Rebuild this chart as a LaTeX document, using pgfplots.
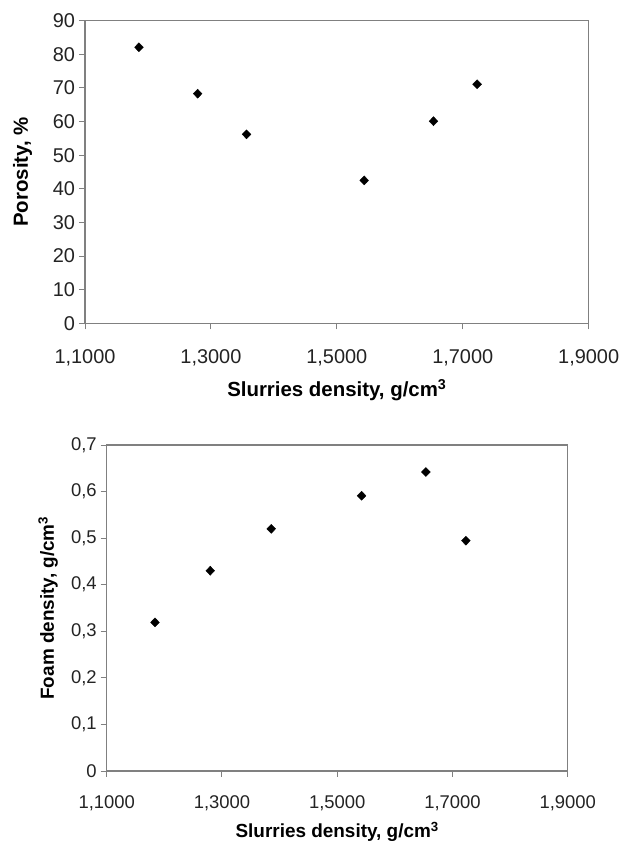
\documentclass[border=0pt]{standalone}
\usepackage{fontspec}
\setmainfont{Liberation Sans}
\usepackage{pgfplots}
\pgfplotsset{compat=1.18}
\definecolor{axgray}{RGB}{128,128,128}
\definecolor{txt}{RGB}{35,35,35}
\begin{document}
\begin{tikzpicture}
\path[use as bounding box] (0,0) rectangle (624bp,846bp);
\pgfplotsset{
  every axis/.append style={
    scale only axis,
    axis line style={axgray, line width=1.3bp},
    every tick/.style={axgray, line width=1bp},
    tick align=outside,
    major tick length=6bp,
    xtick pos=bottom, ytick pos=left,
    xmin=1.1, xmax=1.9,
    xtick={1.1,1.3,1.5,1.7,1.9},
    xticklabels={{1,1000},{1,3000},{1,5000},{1,7000},{1,9000}},
    tick label style={text=txt},
  },
}
% top
\begin{axis}[
  at={(85bp,522.7bp)}, anchor=south west,
  width=503.7bp, height=302.6bp,
  ymin=0, ymax=90,
  ytick={0,10,20,30,40,50,60,70,80,90},
  yticklabels={0,10,20,30,40,50,60,70,80,90},
  xticklabel style={font=\fontsize{20}{23}\selectfont, anchor=center, yshift=-29bp},
  yticklabel style={font=\fontsize{20}{23}\selectfont, anchor=east, xshift=-0.5bp},
  xlabel={\textbf{Slurries density, g/cm\textsuperscript{3}}},
  ylabel={\textbf{Porosity, \%}},
  xlabel style={font=\fontsize{20.5}{23}\selectfont, at={(axis description cs:0.5,-0.2204)}, anchor=center},
  ylabel style={font=\fontsize{20.5}{23}\selectfont, at={(axis description cs:-0.124,0.5)}, anchor=center},
]
\addplot[only marks, mark=diamond*, mark size=4.5bp, mark options={xscale=1.3}, black] coordinates {
(1.1857,82.1) (1.2789,68.3) (1.3566,56.2) (1.5434,42.5) (1.6535,60.1) (1.7228,71.1)
};
\end{axis}
% bottom
\begin{axis}[
  at={(106.7bp,75bp)}, anchor=south west,
  width=461bp, height=326bp,
  ymin=0, ymax=0.7,
  ytick={0,0.1,0.2,0.3,0.4,0.5,0.6,0.7},
  yticklabels={0,{0,1},{0,2},{0,3},{0,4},{0,5},{0,6},{0,7}},
  xticklabel style={font=\fontsize{18.5}{21}\selectfont, anchor=center, yshift=-26bp},
  yticklabel style={font=\fontsize{18.5}{21}\selectfont, anchor=east, xshift=-0.5bp},
  xlabel={\textbf{Slurries density, g/cm\textsuperscript{3}}},
  ylabel={\textbf{Foam density, g/cm\textsuperscript{3}}},
  xlabel style={font=\fontsize{19}{22}\selectfont, at={(axis description cs:0.5,-0.187)}, anchor=center},
  ylabel style={font=\fontsize{19}{22}\selectfont, at={(axis description cs:-0.1273,0.5)}, anchor=center},
]
\addplot[only marks, mark=diamond*, mark size=4.5bp, mark options={xscale=1.3}, black] coordinates {
(1.1838,0.319) (1.2797,0.430) (1.3855,0.520) (1.5423,0.591) (1.6539,0.642) (1.7233,0.4946)
};
\end{axis}
\end{tikzpicture}
\end{document}
